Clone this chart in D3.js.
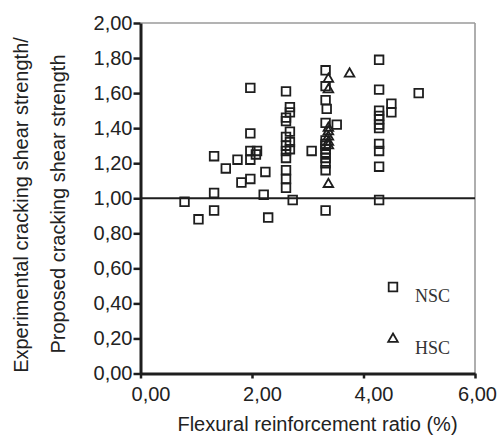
<!DOCTYPE html>
<html>
<head>
<meta charset="utf-8">
<script src="https://cdn.jsdelivr.net/npm/d3@7"></script>
<style>
  body { margin: 0; background: #fff; }
  svg { display: block; }
  .tick text { font-family: "Liberation Sans", Arial, sans-serif; font-size: 20px; fill: #222; }
  .axis-label { font-family: "Liberation Sans", Arial, sans-serif; font-size: 20px; fill: #222; }
  .legend-text { font-family: "Liberation Serif", "Times New Roman", serif; font-size: 18px; fill: #333; }
</style>
</head>
<body>
<svg id="chart" width="499" height="438"></svg>
<script>
// NSC specimens (normal strength concrete)
const nscRatio = [
  0.79, 1.04, 1.32, 1.32, 1.32, 1.53, 1.74, 1.81, 1.97, 1.97, 1.97, 1.97, 1.97, 2.09, 2.07, 2.24, 2.21, 2.29,
  2.61, 2.68, 2.68, 2.61, 2.61, 2.68, 2.61, 2.68, 2.61, 2.68, 2.61, 2.61, 2.61, 2.61, 2.61, 2.73, 3.07,
  3.32, 3.32, 3.32, 3.34, 3.32, 3.52, 3.32, 3.32, 3.32, 3.32, 3.32, 3.32, 3.32, 3.32, 3.32,
  4.28, 4.28, 4.28, 4.28, 4.28, 4.28, 4.28, 4.28, 4.28, 4.28, 4.28, 4.50, 4.50, 4.99
];
const nscValue = [
  0.98, 0.88, 0.93, 1.03, 1.24, 1.17, 1.22, 1.09, 1.11, 1.37, 1.63, 1.22, 1.27, 1.27, 1.25, 1.15, 1.02, 0.89,
  1.61, 1.52, 1.49, 1.46, 1.44, 1.38, 1.35, 1.32, 1.30, 1.28, 1.27, 1.23, 1.16, 1.11, 1.06, 0.99, 1.27,
  1.73, 1.64, 1.56, 1.51, 1.43, 1.42, 1.33, 1.31, 1.30, 1.28, 1.26, 1.23, 1.20, 1.16, 0.93,
  1.79, 1.62, 1.50, 1.47, 1.45, 1.42, 1.40, 1.31, 1.27, 1.18, 0.99, 1.54, 1.49, 1.60
];

// HSC specimens (high strength concrete)
const hscRatio = [3.37, 3.37, 3.37, 3.37, 3.37, 3.37, 3.37, 3.37, 3.75];
const hscValue = [1.68, 1.62, 1.40, 1.38, 1.35, 1.32, 1.30, 1.08, 1.71];

const xTicks = [0, 2, 4, 6];
const yTicks = [0, 0.2, 0.4, 0.6, 0.8, 1.0, 1.2, 1.4, 1.6, 1.8, 2.0];
const legendLabels = ["NSC", "HSC"];

const svg = d3.select("#chart");
const W = +svg.attr("width"), H = +svg.attr("height");
const margin = { top: 23, right: 24, bottom: 64.5, left: 140.5 };

const x = d3.scaleLinear().domain([0, 6]).range([margin.left, W - margin.right]);
const y = d3.scaleLinear().domain([0, 2]).range([H - margin.bottom, margin.top]);

const comma = d => d3.format(".2f")(d).replace(".", ",");
const ink = "#1e1e1e";

// grey frame on top and right
svg.append("line")
  .attr("x1", x(0)).attr("x2", x(6)).attr("y1", y(2)).attr("y2", y(2))
  .attr("stroke", "#9a9a9a").attr("stroke-width", 1.6);
svg.append("line")
  .attr("x1", x(6)).attr("x2", x(6)).attr("y1", y(2)).attr("y2", y(0))
  .attr("stroke", "#9a9a9a").attr("stroke-width", 1.6);

// reference line at ratio 1
svg.append("line")
  .attr("x1", x(0)).attr("x2", x(6)).attr("y1", y(1)).attr("y2", y(1))
  .attr("stroke", ink).attr("stroke-width", 2);

// Axes
const xAxis = svg.append("g")
  .attr("transform", `translate(0,${y(0)})`)
  .call(d3.axisBottom(x).tickValues(xTicks).tickFormat(comma).tickSize(5).tickSizeOuter(0).tickPadding(8));

const yAxis = svg.append("g")
  .attr("transform", `translate(${x(0)},0)`)
  .call(d3.axisLeft(y).tickValues(yTicks).tickFormat(comma).tickSize(7).tickSizeOuter(0).tickPadding(1));

[xAxis, yAxis].forEach(g => {
  g.select(".domain").attr("stroke", ink).attr("stroke-width", 3);
  g.selectAll(".tick line").attr("stroke", ink).attr("stroke-width", 2.5);
});

// x tick labels sit a bit right of their ticks; keep the last one inside the page
xAxis.selectAll(".tick text")
  .attr("text-anchor", "middle")
  .attr("dx", function () {
    const tx = +this.parentNode.getAttribute("transform").match(/translate\(([-\d.]+)/)[1];
    const half = this.getComputedTextLength() / 2;
    return Math.min(10, W - 2 - (tx + half));
  });

// Axis labels
svg.append("text")
  .attr("class", "axis-label")
  .attr("x", 317.5)
  .attr("y", 431)
  .attr("text-anchor", "middle")
  .text("Flexural reinforcement ratio (%)");

svg.append("text")
  .attr("class", "axis-label")
  .attr("transform", "translate(28,205) rotate(-90)")
  .attr("text-anchor", "middle")
  .text("Experimental cracking shear strength/");

svg.append("text")
  .attr("class", "axis-label")
  .attr("transform", "translate(65,204) rotate(-90)")
  .attr("text-anchor", "middle")
  .text("Proposed cracking shear strength");

// Markers
const square = d3.symbol().type(d3.symbolSquare).size(74);
const triangle = d3.symbol().type(d3.symbolTriangle).size(40);

const nsc = nscRatio.map((r, i) => ({ r, v: nscValue[i] }));
const hsc = hscRatio.map((r, i) => ({ r, v: hscValue[i] }));

svg.append("g").selectAll("path")
  .data(nsc)
  .join("path")
  .attr("d", square)
  .attr("transform", d => `translate(${x(d.r)},${y(d.v)})`)
  .attr("fill", "none")
  .attr("stroke", ink)
  .attr("stroke-width", 1.8);

svg.append("g").selectAll("path")
  .data(hsc)
  .join("path")
  .attr("d", triangle)
  .attr("transform", d => `translate(${x(d.r)},${y(d.v)})`)
  .attr("fill", "none")
  .attr("stroke", ink)
  .attr("stroke-width", 1.8);

// Legend
const legend = svg.append("g");
const legendSymbols = [square, triangle];
const legendY = [287, 339];
legendLabels.forEach((label, i) => {
  legend.append("path")
    .attr("d", legendSymbols[i])
    .attr("transform", `translate(393,${legendY[i]})`)
    .attr("fill", "none")
    .attr("stroke", ink)
    .attr("stroke-width", 1.8);
  legend.append("text")
    .attr("class", "legend-text")
    .attr("x", 415)
    .attr("y", legendY[i] + 15)
    .text(label);
});
</script>
</body>
</html>
